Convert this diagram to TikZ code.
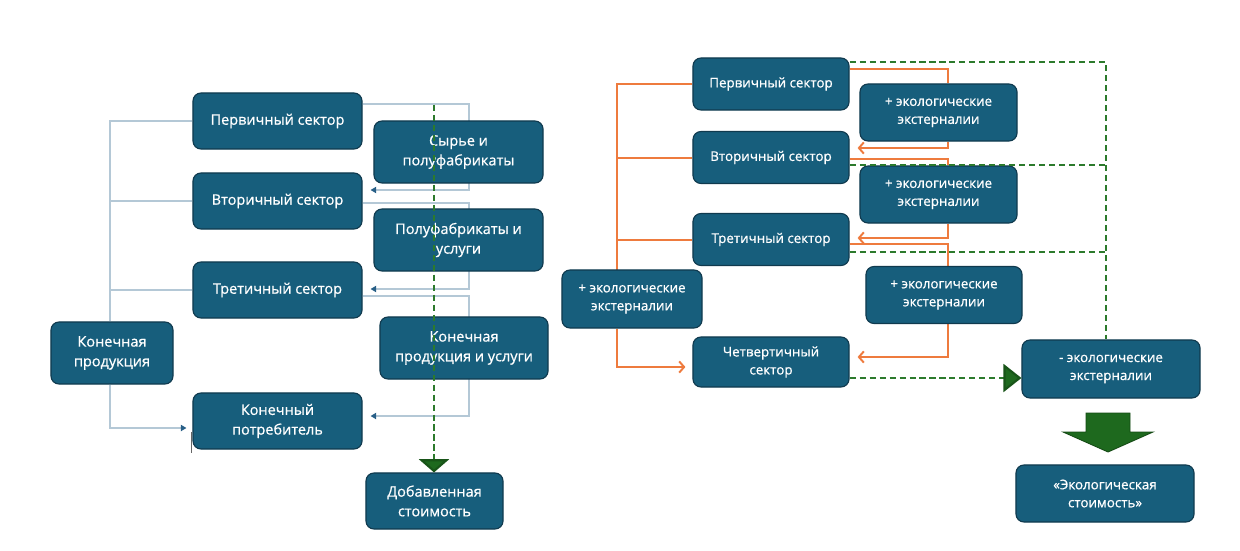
\documentclass[tikz,border=0pt]{standalone}
\usepackage{fontspec}
\setmainfont{Open Sans}[FakeBold=0.7]
\usetikzlibrary{arrows.meta,backgrounds}
\definecolor{boxfill}{RGB}{23,94,124}
\definecolor{boxdraw}{RGB}{16,58,78}
\definecolor{lblue}{RGB}{180,200,214}
\definecolor{dblue}{RGB}{40,95,135}
\definecolor{orng}{RGB}{238,123,62}
\definecolor{grn}{RGB}{44,122,44}
\definecolor{dgrn}{RGB}{30,105,30}
\begin{document}
\begin{tikzpicture}[x=0.025cm,y=-0.025cm,
 box/.style={draw=boxdraw, line width=0.8pt, fill=boxfill, rounded corners=0.2cm, text=white, align=center, inner sep=0pt},
 lbox/.style={box, font=\fontsize{10.3}{14}\selectfont},
 rbox/.style={box, font=\fontsize{9.5}{12.8}\selectfont},
 bline/.style={draw=lblue, line width=1.1pt},
 btip/.style={-{Triangle[length=4pt,width=4.5pt,color=dblue]}},
 oline/.style={draw=orng, line width=1.4pt},
 otip/.style={-{Straight Barb[length=3.5pt,width=8pt]}},
 gdash/.style={draw=grn, line width=1.5pt, dash pattern=on 4.3pt off 2.8pt},
]
\useasboundingbox (0,0) rectangle (1240,551);

% left nodes
\node[lbox, minimum width=4.225cm, minimum height=1.4cm] (p1) at (277.5,121) {Первичный сектор};
\node[lbox, minimum width=4.225cm, minimum height=1.4cm] (p2) at (277.5,201) {Вторичный сектор};
\node[lbox, minimum width=4.225cm, minimum height=1.4cm] (p3) at (277.5,290) {Третичный сектор};
\node[lbox, minimum width=4.225cm, minimum height=1.4cm] (cp) at (277.5,421) {Конечный\\потребитель};
\node[lbox, minimum width=3.05cm, minimum height=1.55cm] (fp) at (112,353) {Конечная\\продукция};
\node[lbox, minimum width=4.225cm, minimum height=1.55cm] (m1) at (458.5,152) {Сырье и\\полуфабрикаты};
\node[lbox, minimum width=4.225cm, minimum height=1.55cm] (m2) at (458.5,240) {Полуфабрикаты и\\услуги};
\node[lbox, minimum width=4.2cm, minimum height=1.55cm] (m3) at (464,348) {Конечная\\продукция и услуги};
\node[lbox, minimum width=3.425cm, minimum height=1.4cm] (dv) at (434.5,501) {Добавленная\\стоимость};

% right nodes
\node[rbox, minimum width=3.9cm, minimum height=1.3cm] (s1) at (771,84) {Первичный сектор};
\node[rbox, minimum width=3.9cm, minimum height=1.3cm] (s2) at (771,157.5) {Вторичный сектор};
\node[rbox, minimum width=3.9cm, minimum height=1.3cm] (s3) at (771,239.5) {Третичный сектор};
\node[rbox, minimum width=3.9cm, minimum height=1.25cm] (s4) at (771,362) {Четвертичный\\сектор};
\node[rbox, minimum width=3.5cm, minimum height=1.45cm] (le) at (632,299) {+ экологические\\экстерналии};
\node[rbox, minimum width=3.925cm, minimum height=1.425cm] (r1) at (938.5,112.5) {+ экологические\\экстерналии};
\node[rbox, minimum width=3.925cm, minimum height=1.425cm] (r2) at (938.5,194.5) {+ экологические\\экстерналии};
\node[rbox, minimum width=3.9cm, minimum height=1.425cm] (r3) at (944,295) {+ экологические\\экстерналии};
\node[rbox, minimum width=4.45cm, minimum height=1.45cm] (ne) at (1111,369) {- экологические\\экстерналии};
\node[rbox, minimum width=4.45cm, minimum height=1.425cm] (ev) at (1105,493.5) {«Экологическая\\стоимость»};

\begin{pgfonlayer}{background}
% left connectors
\coordinate (a1) at (469,104); \coordinate (a2) at (469,190);
\coordinate (b1) at (469,203); \coordinate (b2) at (469,289);
\coordinate (c1) at (469,296); \coordinate (c2) at (469,416);
\draw[bline, btip, shorten >=0.2cm] (p1.east |- a1) -- (a1) -- (a2) -- (p2.east |- a2);
\draw[bline, btip, shorten >=0.2cm] (p2.east |- b1) -- (b1) -- (b2) -- (p3.east |- b2);
\draw[bline, btip, shorten >=0.2cm] (p3.east |- c1) -- (c1) -- (c2) -- (cp.east |- c2);
\coordinate (t0) at (110,121);
\draw[bline] (p1.west) -- (p1.west -| t0) -- (fp.north -| t0);
\draw[bline] (p2.west -| t0) -- (p2.west);
\draw[bline] (p3.west -| t0) -- (p3.west);
\coordinate (d1) at (110,428);
\draw[bline, btip, shorten >=0.15cm] (fp.south -| d1) -- (d1) -- (cp.west |- d1);

% right orange connectors
\coordinate (ot) at (617,270);
\coordinate (o2) at (617,158); \coordinate (o3) at (617,240);
\draw[oline] (s1.west) -- (s1.west -| ot) -- (ot);
\draw[oline] (o2) -- (s2.west |- o2);
\draw[oline] (o3) -- (s3.west |- o3);
\coordinate (ob) at (617,367);
\draw[oline, otip, shorten >=0.175cm] (ob |- le.south) -- (ob) -- (s4.west |- ob);
\coordinate (q1) at (948,69); \coordinate (q2) at (948,148);
\coordinate (q3) at (948,159); \coordinate (q4) at (948,238);
\coordinate (q5) at (948,244); \coordinate (q6) at (948,357);
\draw[oline] (s1.east |- q1) -- (q1) -- (r1.north -| q1);
\draw[oline, otip, shorten >=0.2cm] (r1.south -| q2) -- (q2) -- (s2.east |- q2);
\draw[oline] (s2.east |- q3) -- (q3) -- (r2.north -| q3);
\draw[oline, otip, shorten >=0.2cm] (r2.south -| q4) -- (q4) -- (s3.east |- q4);
\draw[oline] (s3.east |- q5) -- (q5) -- (r3.north -| q5);
\draw[oline, otip, shorten >=0.2cm] (r3.south -| q6) -- (q6) -- (s4.east |- q6);
\end{pgfonlayer}

% stray mark
\draw[black!60, line width=0.6pt] (191,432) -- (191,453);

% left green dashed
\coordinate (g0) at (434,105);
\draw[gdash, -{Triangle[length=0.33cm,width=0.75cm,fill=dgrn,color=dgrn!80!black]}] (g0) -- (dv.north -| g0);

% right green dashed
\coordinate (h1) at (1106,62); \coordinate (h2) at (1106,165);
\coordinate (h3) at (1106,252); \coordinate (h4) at (1000,378);
\draw[gdash] (s1.east |- h1) -- (h1) -- (ne.north -| h1);
\draw[gdash] (s2.east |- h2) -- (h2);
\draw[gdash] (s3.east |- h3) -- (h3);
\draw[gdash, -{Triangle[length=0.45cm,width=0.7cm,fill=dgrn,color=dgrn!80!black]}] (s4.east |- h4) -- (ne.west |- h4);

% big block arrow
\draw[draw=dgrn!70!black, fill=dgrn, line width=0.6pt] (1086,413) -- (1130,413) -- (1130,432) -- (1153,432) -- (1108,452) -- (1063,432) -- (1086,432) -- cycle;
\end{tikzpicture}
\end{document}
